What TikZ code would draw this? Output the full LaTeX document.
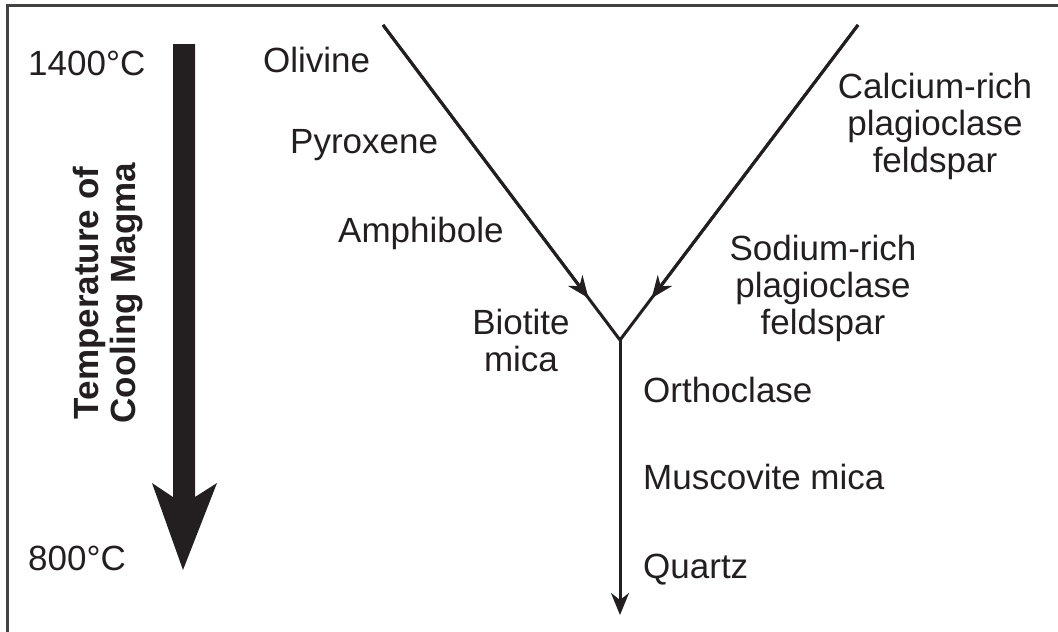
\documentclass[tikz,border=0pt]{standalone}
\usepackage{fontspec}
\setmainfont{Liberation Sans}
\usetikzlibrary{arrows.meta,positioning,calc}
\definecolor{ink}{HTML}{231F20}

\begin{document}
\begin{tikzpicture}[x=1pt, y=-1pt,
  lbl/.style={inner sep=0pt, text=ink, font=\fontsize{35}{37}\selectfont},
  blk/.style={lbl, align=center},
  flow/.style={draw=ink, line width=3pt},
  tip/.style={flow, -{Stealth[length=22pt, width=18pt, inset=7pt]}}
]
\useasboundingbox (0,0) rectangle (1058,632);
\draw[line width=3pt, draw=ink!85] (7,5) rectangle (1080,660);

% big temperature arrow
\fill[ink] (173,44) -- (195,44) -- (195,497) -- (217,483) -- (183,570)
  -- (152,483) -- (173,497) -- cycle;
\node[lbl, font=\bfseries\fontsize{35}{37}\selectfont, rotate=90, align=center] (temp) at (108,293) {Temperature of\\Cooling Magma};
\node[lbl, anchor=base west] (hot) at (28,75) {1400°C};
\node[lbl, anchor=base west] (cold) at (28,570) {800°C};

% reaction series
\coordinate (oltop) at (383,25);
\coordinate (catop) at (858,25);
\coordinate (junc) at (620,340);
\coordinate (qend) at (620,615);
\coordinate (midl) at ($(oltop)!0.867!(junc)$);
\coordinate (midr) at ($(catop)!0.867!(junc)$);
\draw[flow, line join=miter] (oltop) -- (junc) -- (catop);
\draw[tip] (oltop) -- (midl);
\draw[tip] (catop) -- (midr);
\draw[tip] (junc) -- (qend);

% minerals
\node[lbl, anchor=base west] (oliv) at (263,72) {Olivine};
\node[lbl, anchor=base west] (pyro) at (290,153) {Pyroxene};
\node[lbl, anchor=base west] (amph) at (338,242) {Amphibole};
\node[blk] (biot) at (521,340) {Biotite\\mica};
\node[blk] (calc) at (935,126) {Calcium-rich\\plagioclase\\feldspar};
\node[blk] (sodi) at (823,288) {Sodium-rich\\plagioclase\\feldspar};
\node[lbl, anchor=base west] (orth) at (643,402) {Orthoclase};
\node[lbl, anchor=base west] (musc) at (643,489) {Muscovite mica};
\node[lbl, anchor=base west] (quar) at (643,578) {Quartz};
\end{tikzpicture}
\end{document}
